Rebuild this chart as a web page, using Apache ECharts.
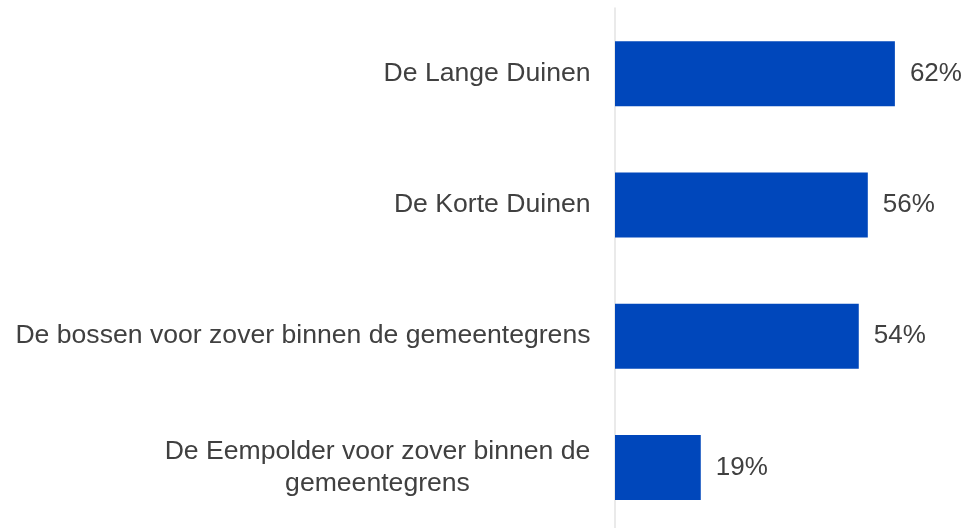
<!DOCTYPE html>
<html>
<head>
<meta charset="utf-8">
<script src="https://cdn.jsdelivr.net/npm/echarts@6/dist/echarts.min.js"></script>
<style>
html,body{margin:0;padding:0;background:#fff;}
#chart{width:968px;height:528px;}
</style>
</head>
<body>
<div id="chart"></div>
<script>
var categories = [
  'De Lange Duinen',
  'De Korte Duinen',
  'De bossen voor zover binnen de gemeentegrens',
  'De Eempolder voor zover binnen de gemeentegrens'
];
var values = [62, 56, 54, 19];
var wrapLines = {
  'De Eempolder voor zover binnen de gemeentegrens': ['De Eempolder voor zover binnen de', 'gemeentegrens']
};

var chart = echarts.init(document.getElementById('chart'), null, {renderer: 'canvas'});
var font = '"Liberation Sans", Arial, sans-serif';
chart.setOption({
  animation: false,
  backgroundColor: '#ffffff',
  grid: {left: 615, top: 8, width: 316, height: 525, containLabel: false, outerBoundsMode: 'none'},
  xAxis: {
    type: 'value', min: 0, max: 70, show: false
  },
  yAxis: {
    type: 'category',
    data: categories,
    inverse: true,
    offset: 1.5,
    axisLine: {show: true, lineStyle: {color: '#e3e3e3', width: 1.5}},
    axisTick: {show: false},
    splitLine: {show: false},
    axisLabel: {
      margin: 23,
      fontFamily: font,
      fontSize: 26.6,
      color: '#404040',
      formatter: function (v) {
        if (wrapLines[v]) {
          return wrapLines[v].map(function (s) { return '{c|' + s + '}'; }).join('\n');
        }
        return v;
      },
      rich: {
        c: {width: 426, align: 'center', fontFamily: font, fontSize: 26.6, color: '#404040', lineHeight: 32}
      }
    }
  },
  series: [{
    type: 'bar',
    data: values,
    barWidth: 65,
    itemStyle: {color: '#0047bb'},
    label: {
      show: true,
      position: 'right',
      distance: 15,
      formatter: '{c}%',
      fontFamily: font,
      fontSize: 26,
      color: '#404040'
    }
  }]
});
</script>
</body>
</html>
